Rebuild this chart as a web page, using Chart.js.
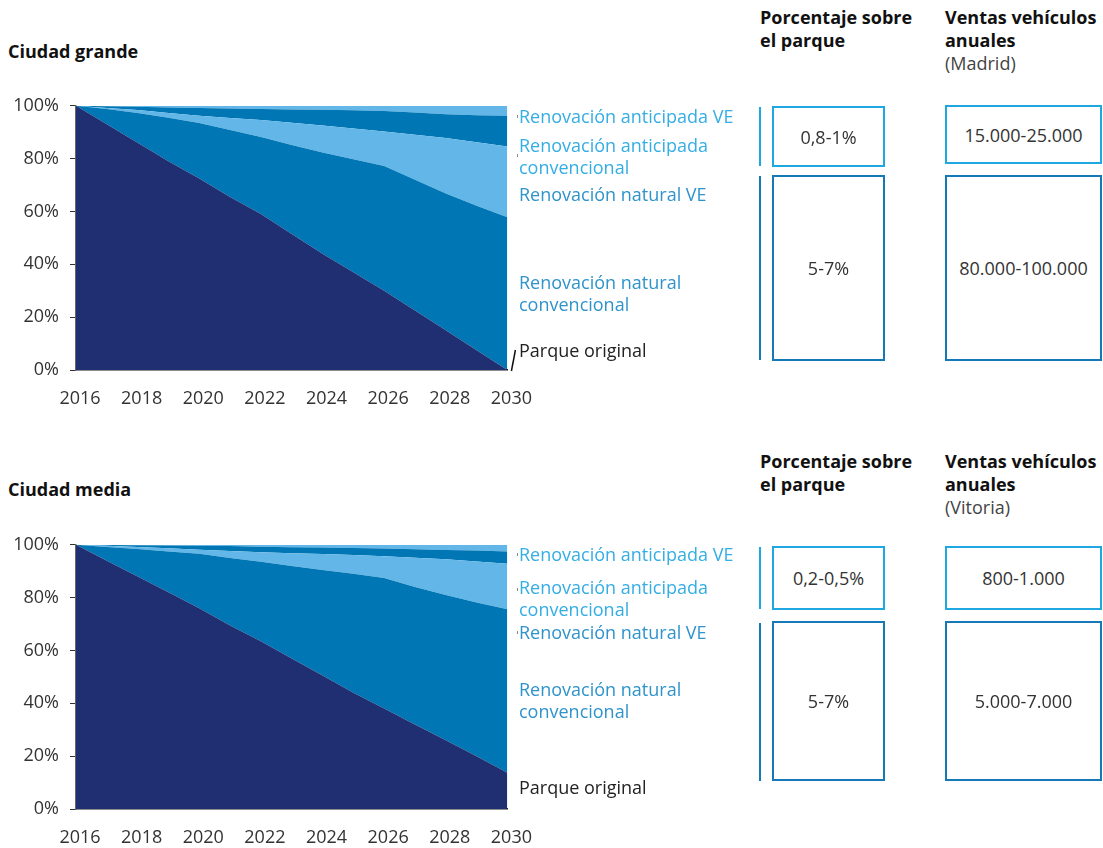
<!DOCTYPE html>
<html lang="es">
<head>
<meta charset="utf-8">
<title>Evolución del parque de vehículos</title>
<script src="https://cdn.jsdelivr.net/npm/chart.js@4.4.1/dist/chart.umd.min.js"></script>
<style>
  body { margin: 0; background: #fff; font-family: "Open Sans", sans-serif; color: #333; }
  #page { position: relative; width: 1103px; height: 848px; overflow: hidden; }
  canvas { position: absolute; left: 0; }
  .t { position: absolute; white-space: nowrap; line-height: 22px; font-size: 18px; }
  .h { font-weight: 700; font-size: 18px; color: #111; line-height: 23px; }
  .sub { font-weight: 400; color: #444; }
  .light { color: #35ade5; }
  .mid { color: #2f93cc; }
  .dark { color: #222; }
  .box { position: absolute; box-sizing: border-box; border: 2px solid; display: flex;
         align-items: center; justify-content: center; font-size: 18px; color: #333; }
  .b1 { border-color: #1fa7e1; }
  .b2 { border-color: #1579b8; }
  .bar { position: absolute; width: 2px; }
  .bar.b1 { background: #1fa7e1; }
  .bar.b2 { background: #1579b8; }
  .tick { position: absolute; width: 1px; height: 3px; background: #888; }
</style>
</head>
<body>
<div id="page">
  <!-- Ciudad grande -->
  <div class="t h" style="left:8px;top:40px;">Ciudad grande</div>
  <div class="t h" style="left:760px;top:6px;">Porcentaje sobre<br>el parque</div>
  <div class="t h" style="left:945px;top:6px;">Ventas vehículos<br>anuales<br><span class="sub">(Madrid)</span></div>
  <canvas id="chartGrande" width="546" height="326" style="top:84px;"></canvas>

  <div class="tick" style="left:517px;top:115px;"></div>
  <div class="tick" style="left:517px;top:154px;"></div>
  <div class="t light" style="left:519px;top:105px;">Renovación anticipada VE</div>
  <div class="t light" style="left:519px;top:134px;">Renovación anticipada<br>convencional</div>
  <div class="t mid" style="left:519px;top:183px;">Renovación natural VE</div>
  <div class="t mid" style="left:519px;top:271px;">Renovación natural<br>convencional</div>
  <div class="t dark" style="left:519px;top:339px;">Parque original</div>

  <div class="bar b1" style="left:759px;top:107px;height:59px;"></div>
  <div class="bar b2" style="left:759px;top:176px;height:184px;"></div>
  <div class="box b1" id="g_pct1" style="left:772px;top:106px;width:113px;height:61px;"></div>
  <div class="box b2" id="g_pct2" style="left:772px;top:175px;width:113px;height:186px;"></div>
  <div class="box b1" id="g_vta1" style="left:945px;top:105px;width:157px;height:59px;"></div>
  <div class="box b2" id="g_vta2" style="left:945px;top:175px;width:157px;height:186px;"></div>

  <!-- Ciudad media -->
  <div class="t h" style="left:8px;top:478px;">Ciudad media</div>
  <div class="t h" style="left:760px;top:450px;">Porcentaje sobre<br>el parque</div>
  <div class="t h" style="left:945px;top:450px;">Ventas vehículos<br>anuales<br><span class="sub">(Vitoria)</span></div>
  <canvas id="chartMedia" width="546" height="326" style="top:523px;"></canvas>

  <div class="tick" style="left:517px;top:553px;"></div>
  <div class="tick" style="left:517px;top:588px;"></div>
  <div class="tick" style="left:517px;top:631px;"></div>
  <div class="t light" style="left:519px;top:543px;">Renovación anticipada VE</div>
  <div class="t light" style="left:519px;top:576px;">Renovación anticipada<br>convencional</div>
  <div class="t mid" style="left:519px;top:621px;">Renovación natural VE</div>
  <div class="t mid" style="left:519px;top:678px;">Renovación natural<br>convencional</div>
  <div class="t dark" style="left:519px;top:776px;">Parque original</div>

  <div class="bar b1" style="left:759px;top:547px;height:62px;"></div>
  <div class="bar b2" style="left:759px;top:623px;height:158px;"></div>
  <div class="box b1" id="m_pct1" style="left:772px;top:546px;width:113px;height:64px;"></div>
  <div class="box b2" id="m_pct2" style="left:772px;top:621px;width:113px;height:160px;"></div>
  <div class="box b1" id="m_vta1" style="left:945px;top:546px;width:157px;height:64px;"></div>
  <div class="box b2" id="m_vta2" style="left:945px;top:621px;width:157px;height:160px;"></div>
</div>

<script>
// Years on the horizontal axis
const years = ['2016','2017','2018','2019','2020','2021','2022','2023','2024','2025','2026','2027','2028','2029','2030'];
const yearLabels = ['2016','2018','2020','2022','2024','2026','2028','2030'];
const percentTicks = [0, 20, 40, 60, 80, 100];

const seriesNames = [
  'Parque original',
  'Renovación natural convencional',
  'Renovación natural VE',
  'Renovación anticipada convencional',
  'Renovación anticipada VE'
];

// Ciudad grande: share of the fleet (%) per year, stacked bottom to top
const grandeOriginal  = [100, 93, 86, 79, 72.5, 65.5, 59, 51.5, 44, 37, 30, 22.5, 15, 7.5, 0];
const grandeNatConv   = [0, 5.8, 11.3, 16.5, 21, 25.3, 29.2, 33.7, 38.3, 42.8, 47.2, 49.5, 51.8, 54.7, 57.8];
const grandeNatVE     = [0, 0.4, 1.1, 1.8, 2.7, 4.6, 6.4, 8.4, 10.2, 11.6, 13.1, 17.0, 21.0, 24.0, 26.8];
const grandeAntConv   = [0, 0.6, 1.2, 2.1, 3.0, 3.6, 4.2, 5.0, 6.0, 6.9, 7.7, 8.5, 9.0, 10.2, 11.6];
const grandeAntVE     = [0, 0.2, 0.4, 0.6, 0.8, 1.0, 1.2, 1.4, 1.5, 1.7, 2.0, 2.5, 3.2, 3.6, 3.8];

// Ciudad media: share of the fleet (%) per year, stacked bottom to top
const mediaOriginal   = [100, 94, 88, 82, 76, 69.5, 63.5, 57, 50.5, 44, 38, 32, 26, 20, 13.7];
const mediaNatConv    = [0, 5.2, 10.4, 15.5, 20.6, 25.5, 30.1, 35.0, 40.0, 45.0, 49.4, 52.0, 55.0, 58.2, 61.9];
const mediaNatVE      = [0, 0.4, 0.8, 1.2, 1.5, 2.7, 3.6, 4.8, 6.0, 7.1, 8.3, 11.1, 13.5, 15.5, 17.2];
const mediaAntConv    = [0, 0.3, 0.6, 1.0, 1.5, 1.8, 2.1, 2.3, 2.5, 2.7, 2.9, 3.2, 3.5, 4.1, 4.7];
const mediaAntVE      = [0, 0.1, 0.2, 0.3, 0.4, 0.5, 0.7, 0.9, 1.0, 1.2, 1.4, 1.7, 2.0, 2.2, 2.5];

// Side panels
const grandePct    = ['0,8-1%', '5-7%'];
const grandeVentas = ['15.000-25.000', '80.000-100.000'];
const mediaPct     = ['0,2-0,5%', '5-7%'];
const mediaVentas  = ['800-1.000', '5.000-7.000'];

document.getElementById('g_pct1').textContent = grandePct[0];
document.getElementById('g_pct2').textContent = grandePct[1];
document.getElementById('g_vta1').textContent = grandeVentas[0];
document.getElementById('g_vta2').textContent = grandeVentas[1];
document.getElementById('m_pct1').textContent = mediaPct[0];
document.getElementById('m_pct2').textContent = mediaPct[1];
document.getElementById('m_vta1').textContent = mediaVentas[0];
document.getElementById('m_vta2').textContent = mediaVentas[1];

const layerColors = ['#1f2f72', '#0076b4', '#62b7e8', '#0076b4', '#62b7e8'];

// Short slanted leader line pointing at the bottom-right corner of the plot
const leaderPlugin = {
  id: 'leader',
  afterDraw(chart, args, opts) {
    if (!opts.show) return;
    const { ctx, chartArea } = chart;
    ctx.save();
    ctx.strokeStyle = '#111';
    ctx.lineWidth = 1.5;
    ctx.beginPath();
    ctx.moveTo(chartArea.right + 4, chartArea.bottom + 1);
    ctx.lineTo(chartArea.right + 8, chartArea.bottom - 20);
    ctx.stroke();
    ctx.restore();
  }
};

function buildChart(id, layers, showLeader) {
  const datasets = layers.map((values, i) => ({
    label: seriesNames[i],
    data: values,
    backgroundColor: layerColors[i],
    borderColor: layerColors[i],
    borderWidth: 0,
    pointRadius: 0,
    tension: 0,
    fill: i === 0 ? 'origin' : '-1'
  }));

  return new Chart(document.getElementById(id), {
    type: 'line',
    data: { labels: years, datasets },
    options: {
      responsive: false,
      animation: false,
      devicePixelRatio: 1,
      layout: { padding: { top: 0, right: 26, left: 0, bottom: 0 } },
      plugins: {
        legend: { display: false },
        tooltip: { enabled: false },
        leader: { show: showLeader }
      },
      scales: {
        x: {
          type: 'category',
          offset: false,
          grid: { display: false, drawTicks: false },
          border: { display: true, color: '#1a1a1a', width: 1.5 },
          ticks: {
            autoSkip: false,
            maxRotation: 0,
            padding: 18,
            labelOffset: 4,
            color: '#333',
            font: { family: 'Open Sans', size: 18 },
            callback: function (value) {
              const lbl = this.getLabelForValue(value);
              return yearLabels.includes(lbl) ? lbl : '';
            }
          },
          afterFit: (scale) => { scale.height = 40; }
        },
        y: {
          stacked: true,
          min: 0,
          max: 100,
          afterBuildTicks: (scale) => { scale.ticks = percentTicks.map(v => ({ value: v })); },
          grid: { drawOnChartArea: false, drawTicks: true, tickLength: 6, color: '#333' },
          border: { display: true, color: '#666', width: 1.5 },
          ticks: {
            padding: 11,
            color: '#333',
            font: { family: 'Open Sans', size: 18 },
            callback: (v) => v + '%'
          },
          afterFit: (scale) => { scale.width = 76; }
        }
      }
    },
    plugins: [leaderPlugin]
  });
}

buildChart('chartGrande', [grandeOriginal, grandeNatConv, grandeNatVE, grandeAntConv, grandeAntVE], true);
buildChart('chartMedia', [mediaOriginal, mediaNatConv, mediaNatVE, mediaAntConv, mediaAntVE], false);
</script>
</body>
</html>
